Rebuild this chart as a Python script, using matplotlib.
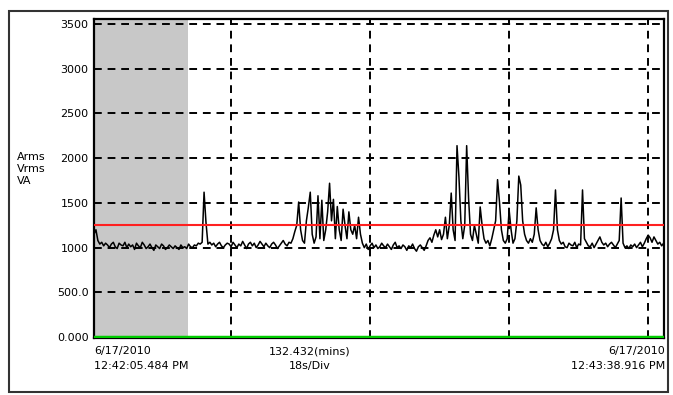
import numpy as np
import matplotlib
matplotlib.use("Agg")
import matplotlib.pyplot as plt
from matplotlib.patches import Rectangle

# samples every 0.25 s
dt = 0.25
values = [
    1150, 1200, 1080, 1040, 1060, 1020, 1050, 1030, 1000, 1040, 1060, 1010, 990, 1050, 1030, 1020, 1060, 1000, 1040, 1010,
    1030, 980, 1050, 1020, 1000, 1060, 1030, 990, 1010, 1040, 1000, 970, 1030, 1010, 990, 1040, 1020, 980, 1000, 1030,
    1010, 990, 1020, 1000, 980, 1030, 1000, 1010, 990, 1040, 1010, 1000, 1030, 1020, 1050, 1040, 1060, 1620, 1280, 1040,
    1060, 1030, 1050, 1010, 1040, 1060, 1020, 1000, 1030, 1050, 1040, 1010, 1060, 1030, 1000, 1040, 1020, 1070, 1030, 990,
    1040, 1060, 1020, 1050, 1000, 1030, 1070, 1040, 1010, 1050, 1020, 1000, 1040, 1060, 1030, 990, 1020, 1050, 1080, 1040,
    1020, 1060, 1050, 1100, 1180, 1250, 1510, 1200, 1080, 1050, 1300, 1450, 1620, 1150, 1050, 1120, 1580, 1100, 1530, 1080,
    1200, 1400, 1720, 1300, 1540, 1100, 1460, 1200, 1080, 1430, 1250, 1100, 1400, 1200, 1150, 1250, 1100, 1340, 1150, 1050,
    1000, 1040, 980, 1020, 1050, 1000, 1030, 990, 1010, 1050, 1020, 1000, 1040, 1010, 980, 1030, 1060, 1000, 1020, 990,
    1030, 1010, 970, 1020, 1000, 1040, 990, 960, 1010, 1030, 1000, 970, 1020, 1080, 1110, 1060, 1140, 1200, 1120, 1200,
    1090, 1150, 1340, 1100, 1250, 1610, 1200, 1080, 2140, 1790, 1300, 1100, 1250, 2140, 1550, 1150, 1080, 1250, 1150, 1050,
    1455, 1250, 1100, 1050, 1080, 1020, 1100, 1200, 1300, 1760, 1510, 1200, 1080, 1050, 1100, 1420, 1200, 1050, 1100, 1300,
    1800, 1700, 1300, 1150, 1080, 1050, 1100, 1060, 1150, 1445, 1200, 1080, 1040, 1020, 1060, 1010, 1050, 1100, 1200, 1645,
    1200, 1080, 1040, 1060, 1010, 1000, 1050, 1030, 1020, 1060, 1000, 1040, 1030, 1645, 1100, 1060, 1020, 1010, 1050, 1000,
    1040, 1080, 1120, 1060, 1030, 1050, 1010, 1040, 1060, 1030, 1000, 1040, 1080, 1555, 1050, 1000, 1020, 990, 1030, 1010,
    1040, 1000, 1030, 1060, 1010, 1050, 1100, 1140, 1110, 1060, 1120, 1080, 1040, 1060, 1020, 1050,
]
t = np.arange(len(values)) * dt

t_span = 73.8
shade_end = 12.2
div_lines = [17.7, 35.7, 53.7, 71.7]
yticks = [0, 500, 1000, 1500, 2000, 2500, 3000, 3500]
ytick_labels = ["0.000", "500.0", "1000", "1500", "2000", "2500", "3000", "3500"]
limit = 1250

font = ["Liberation Sans Narrow", "DejaVu Sans"]

fig = plt.figure(figsize=(6.73, 3.95), dpi=100)
W, H = 673, 395
ax = fig.add_axes([94 / W, 1 - 338 / H, 570 / W, 319 / H])

ax.axvspan(0, shade_end, color="#c8c8c8", lw=0, zorder=0)
for y in yticks[1:]:
    ax.axhline(y, color="black", lw=1.4, ls=(0, (4, 3)), zorder=1)
for x in div_lines:
    ax.axvline(x, color="black", lw=1.4, ls=(0, (4, 3)), zorder=1)

ax.plot(t, values, color="black", lw=1.1, zorder=3)
ax.axhline(limit, color="#ff2020", lw=1.5, zorder=4)
ax.axhline(0, color="#00cc00", lw=2.5, zorder=4)

ax.set_xlim(0, t_span)
ax.set_ylim(-10, 3556)
ax.set_xticks([])
ax.set_yticks(yticks)
ax.set_yticklabels(ytick_labels, family=font, fontsize=8)
ax.tick_params(axis="y", length=0, pad=4)
for s in ax.spines.values():
    s.set_linewidth(1.6)

# outer frame
fig.patches.append(Rectangle((9 / W, 1 - 392 / H), 659 / W, 381 / H,
                             transform=fig.transFigure, fill=False,
                             edgecolor="#333333", lw=1.5))

fig.text(17 / W, 1 - 152 / H, "Arms\nVrms\nVA", ha="left", va="top",
         family=font, fontsize=8, linespacing=1.25)
fig.text(94 / W, 1 - 346 / H, "6/17/2010\n12:42:05.484 PM", ha="left", va="top",
         family=font, fontsize=8, linespacing=1.6)
fig.text(310 / W, 1 - 346 / H, "132.432(mins)\n18s/Div", ha="center", va="top",
         family=font, fontsize=8, linespacing=1.6)
fig.text(665 / W, 1 - 346 / H, "6/17/2010\n12:43:38.916 PM", ha="right", va="top",
         family=font, fontsize=8, linespacing=1.6)

fig.savefig("out.png", dpi=100)
